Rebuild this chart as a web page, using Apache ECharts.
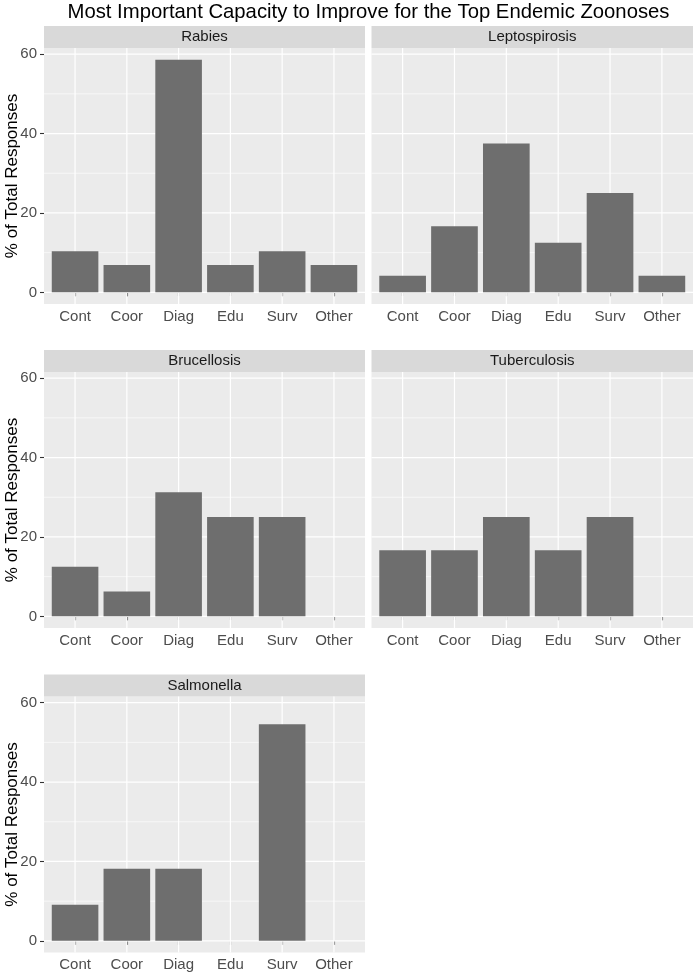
<!DOCTYPE html>
<html>
<head>
<meta charset="utf-8">
<script src="https://cdn.jsdelivr.net/npm/echarts@6/dist/echarts.min.js"></script>
<style>
html,body{margin:0;padding:0;background:#fff;}
#c{width:695px;height:975px;}
</style>
</head>
<body>
<div id="c"></div>
<script>
// ---- data ----
const chartTitle = 'Most Important Capacity to Improve for the Top Endemic Zoonoses';
const yAxisTitle = '% of Total Responses';
const categories = ['Cont', 'Coor', 'Diag', 'Edu', 'Surv', 'Other'];
const diseases = ['Rabies', 'Leptospirosis', 'Brucellosis', 'Tuberculosis', 'Salmonella'];
const rabies = [10.34, 6.90, 58.62, 6.90, 10.34, 6.90];
const leptospirosis = [4.17, 16.67, 37.5, 12.5, 25, 4.17];
const brucellosis = [12.5, 6.25, 31.25, 25, 25, 0];
const tuberculosis = [16.67, 16.67, 25, 16.67, 25, 0];
const salmonella = [9.09, 18.18, 18.18, 0, 54.55, 0];
const yTicks = [0, 20, 40, 60];
const yMinorTicks = [10, 30, 50];

// ---- layout ----
const FONT = '"Liberation Sans", Arial, Helvetica, sans-serif';
const seriesValues = [rabies, leptospirosis, brucellosis, tuberculosis, salmonella];
const colLeft = [44, 371.5];
const colWidth = [321, 321.5];
const rowStripTop = [26, 350, 674.5];
const stripH = 22;
const panelH = 256;
const bgPanel = '#EBEBEB';
const stripFill = '#D9D9D9';
const barColor = '#6E6E6E';

const allVals = [].concat(...seriesValues);
const yMax = Math.max(...allVals);
const yPad = yMax * 0.05;
const yLo = 0 - yPad, yHi = yMax + yPad;
const xPositions = categories.map((_, i) => i + 1);

const grids = [], xAxes = [], yAxes = [], series = [], graphics = [];

graphics.push({
  type: 'text', x: 368.5, y: 12,
  style: { text: chartTitle, font: '20.3px ' + FONT, fill: '#000', textAlign: 'center', textVerticalAlign: 'middle' }
});

diseases.forEach((name, i) => {
  const col = i % 2, row = Math.floor(i / 2);
  const left = colLeft[col], width = colWidth[col];
  const stripTop = rowStripTop[row];
  const top = stripTop + stripH;
  grids.push({ left: left, top: top, width: width, height: panelH, show: true, backgroundColor: bgPanel, borderWidth: 0, containLabel: false });
  xAxes.push({
    gridIndex: i, type: 'value', min: 0.4, max: 6.6,
    axisLine: { show: false },
    axisTick: { show: true, length: 4, lineStyle: { color: '#333333', width: 1.1 }, customValues: xPositions },
    axisLabel: { show: true, customValues: xPositions, formatter: v => categories[Math.round(v) - 1] || '', color: '#4D4D4D', fontSize: 15, fontFamily: FONT, margin: 5 },
    splitLine: { show: false }
  });
  yAxes.push({
    gridIndex: i, type: 'value', min: yLo, max: yHi,
    axisLine: { show: false },
    axisTick: { show: col === 0, length: 4, lineStyle: { color: '#333333', width: 1.1 }, customValues: yTicks },
    axisLabel: { show: col === 0, customValues: yTicks, color: '#4D4D4D', fontSize: 15, fontFamily: FONT, margin: 7 },
    splitLine: { show: false }
  });
  // strip
  graphics.push({ type: 'rect', shape: { x: left, y: stripTop, width: width, height: stripH }, style: { fill: stripFill }, z: 0 });
  graphics.push({ type: 'text', x: left + width / 2, y: stripTop + stripH / 2, style: { text: name, font: '15px ' + FONT, fill: '#1A1A1A', textAlign: 'center', textVerticalAlign: 'middle' } });
  if (col === 0) {
    graphics.push({ type: 'text', x: 12, y: top + panelH / 2, rotation: Math.PI / 2,
      style: { text: yAxisTitle, font: '17px ' + FONT, fill: '#000', textAlign: 'center', textVerticalAlign: 'middle' } });
  }
  // gridlines
  series.push({
    type: 'custom', xAxisIndex: i, yAxisIndex: i, silent: true, z: 1,
    data: [0],
    renderItem: function (params, api) {
      const cs = params.coordSys;
      const children = [];
      yMinorTicks.forEach(v => {
        const y = api.coord([1, v])[1];
        children.push({ type: 'line', shape: { x1: cs.x, y1: y, x2: cs.x + cs.width, y2: y }, style: { stroke: '#FFFFFF', lineWidth: 0.6 } });
      });
      yTicks.forEach(v => {
        const y = api.coord([1, v])[1];
        children.push({ type: 'line', shape: { x1: cs.x, y1: y, x2: cs.x + cs.width, y2: y }, style: { stroke: '#FFFFFF', lineWidth: 1.2 } });
      });
      xPositions.forEach(v => {
        const x = api.coord([v, 0])[0];
        children.push({ type: 'line', shape: { x1: x, y1: cs.y, x2: x, y2: cs.y + cs.height }, style: { stroke: '#FFFFFF', lineWidth: 1.2 } });
      });
      return { type: 'group', children: children };
    }
  });
  // bars
  series.push({
    type: 'custom', xAxisIndex: i, yAxisIndex: i, z: 2,
    data: seriesValues[i].map((v, k) => [xPositions[k], v]),
    renderItem: function (params, api) {
      const x = api.value(0), v = api.value(1);
      const p0 = api.coord([x - 0.45, v]);
      const p1 = api.coord([x + 0.45, 0]);
      return { type: 'rect', shape: { x: p0[0], y: p0[1], width: p1[0] - p0[0], height: p1[1] - p0[1] }, style: { fill: barColor } };
    }
  });
});

const chart = echarts.init(document.getElementById('c'), null, { renderer: 'canvas' });
chart.setOption({
  animation: false,
  backgroundColor: '#FFFFFF',
  grid: grids, xAxis: xAxes, yAxis: yAxes, series: series,
  graphic: graphics
});
</script>
</body>
</html>
